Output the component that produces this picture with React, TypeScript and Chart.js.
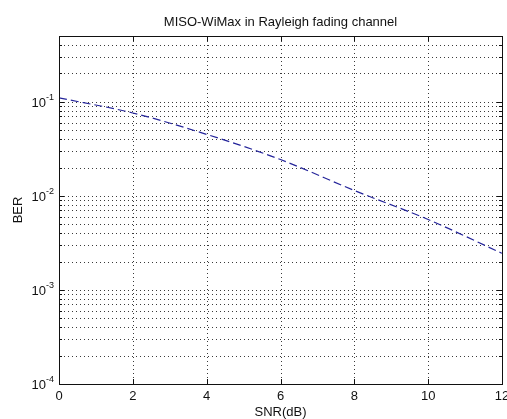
import React, { useEffect, useRef } from "react";
import { Chart, registerables } from "chart.js";

Chart.register(...registerables);

const chartTitle = "MISO-WiMax in Rayleigh fading channel";
const xAxisTitle = "SNR(dB)";
const yAxisTitle = "BER";

const snrValues = [0, 2, 4, 6, 8, 10, 12];
const berValues = [0.11, 0.076, 0.045, 0.0243, 0.0114, 0.0056, 0.00245];

const xTickValues = [0, 2, 4, 6, 8, 10, 12];
const xTickLabels = ["0", "2", "4", "6", "8", "10", "12"];
const yTickValues = [1e-4, 1e-3, 1e-2, 1e-1];
const yTickExponents = ["-4", "-3", "-2", "-1"];
const yMinorMultipliers = [2, 3, 4, 5, 6, 7, 8, 9];

const FONT = '"Liberation Sans", Arial, Helvetica, sans-serif';

const matlabPlugin = {
  id: "matlabAxes",
  beforeDatasetsDraw(chart: any) {
    const { ctx, chartArea } = chart;
    const xs = chart.scales.x;
    const ys = chart.scales.y;
    const L = Math.round(chartArea.left);
    const R = Math.round(chartArea.right);
    const T = Math.round(chartArea.top);
    const B = Math.round(chartArea.bottom);
    ctx.save();
    ctx.strokeStyle = "#3a3a3a";
    ctx.lineWidth = 1;
    ctx.setLineDash([1, 3]);
    const yLines: number[] = [];
    yTickValues.forEach((v) => {
      yLines.push(v);
      yMinorMultipliers.forEach((m) => yLines.push(v * m));
    });
    yLines.forEach((v) => {
      if (v <= ys.min || v >= ys.max) return;
      const y = Math.round(ys.getPixelForValue(v)) + 0.5;
      ctx.beginPath();
      ctx.moveTo(L + 1, y);
      ctx.lineTo(R, y);
      ctx.stroke();
    });
    xTickValues.forEach((v) => {
      if (v <= xs.min || v >= xs.max) return;
      const x = Math.round(xs.getPixelForValue(v)) + 0.5;
      ctx.beginPath();
      ctx.moveTo(x, T + 1);
      ctx.lineTo(x, B);
      ctx.stroke();
    });
    ctx.setLineDash([]);
    ctx.restore();
  },
  afterDatasetsDraw(chart: any) {
    const { ctx, chartArea } = chart;
    const xs = chart.scales.x;
    const ys = chart.scales.y;
    const L = Math.round(chartArea.left);
    const R = Math.round(chartArea.right);
    const T = Math.round(chartArea.top);
    const B = Math.round(chartArea.bottom);
    ctx.save();
    ctx.strokeStyle = "#111";
    ctx.lineWidth = 1;
    ctx.setLineDash([]);
    ctx.strokeRect(L + 0.5, T + 0.5, R - L, B - T);
    const tl = 5;
    ctx.beginPath();
    xTickValues.forEach((v) => {
      const x = Math.round(xs.getPixelForValue(v)) + 0.5;
      ctx.moveTo(x, B);
      ctx.lineTo(x, B - tl);
      ctx.moveTo(x, T);
      ctx.lineTo(x, T + tl);
    });
    const yLines: number[] = [];
    yTickValues.forEach((v) => {
      yLines.push(v);
      yMinorMultipliers.forEach((m) => yLines.push(v * m));
    });
    yLines.forEach((v) => {
      if (v < ys.min || v > ys.max) return;
      const y = Math.round(ys.getPixelForValue(v)) + 0.5;
      const len = yTickValues.includes(v) ? tl : 3;
      ctx.moveTo(L, y);
      ctx.lineTo(L + len, y);
      ctx.moveTo(R, y);
      ctx.lineTo(R - len, y);
    });
    ctx.stroke();

    ctx.fillStyle = "#111";
    ctx.font = `13px ${FONT}`;
    ctx.textAlign = "center";
    ctx.textBaseline = "alphabetic";
    xTickValues.forEach((v, i) => {
      const x = xs.getPixelForValue(v);
      ctx.fillText(xTickLabels[i], x, B + 16);
    });
    yTickValues.forEach((v, i) => {
      const y = ys.getPixelForValue(v);
      ctx.font = `13px ${FONT}`;
      ctx.textAlign = "right";
      ctx.fillText("10", L - 13, y + 5);
      ctx.font = `9px ${FONT}`;
      ctx.textAlign = "left";
      ctx.fillText(yTickExponents[i], L - 13, y - 2);
    });
    ctx.font = `13px ${FONT}`;
    ctx.textAlign = "center";
    ctx.fillText(chartTitle, (L + R) / 2, 26);
    ctx.fillText(xAxisTitle, (L + R) / 2, 416);
    ctx.save();
    ctx.translate(22, (T + B) / 2);
    ctx.rotate(-Math.PI / 2);
    ctx.fillText(yAxisTitle, 0, 0);
    ctx.restore();
    ctx.restore();
  },
};

export default function App() {
  const ref = useRef<HTMLCanvasElement>(null);
  useEffect(() => {
    document.body.style.margin = "0";
    const chart = new Chart(ref.current!, {
      type: "line",
      data: {
        datasets: [
          {
            data: snrValues.map((x, i) => ({ x, y: berValues[i] })),
            borderColor: "#24249a",
            borderWidth: 1.2,
            borderDash: [8, 4],
            pointRadius: 0,
            fill: false,
            cubicInterpolationMode: "monotone",
          },
        ],
      },
      options: {
        animation: false,
        responsive: true,
        maintainAspectRatio: false,
        layout: { padding: { left: 0, top: 36, right: 5, bottom: 0 } },
        plugins: {
          legend: { display: false },
          title: { display: false },
          tooltip: { enabled: false },
        },
        scales: {
          x: {
            type: "linear",
            min: 0,
            max: 12,
            ticks: { display: false },
            grid: { display: false },
            border: { display: false },
            afterFit: (s: any) => {
              s.height = 35;
            },
          },
          y: {
            type: "logarithmic",
            min: 1e-4,
            max: 0.5,
            ticks: { display: false },
            grid: { display: false },
            border: { display: false },
            afterFit: (s: any) => {
              s.width = 59;
            },
          },
        },
      },
      plugins: [matlabPlugin],
    } as any);
    return () => chart.destroy();
  }, []);
  return (
    <div style={{ position: "fixed", left: 0, top: 0, width: 507, height: 419, background: "#fff" }}>
      <canvas ref={ref} />
    </div>
  );
}
